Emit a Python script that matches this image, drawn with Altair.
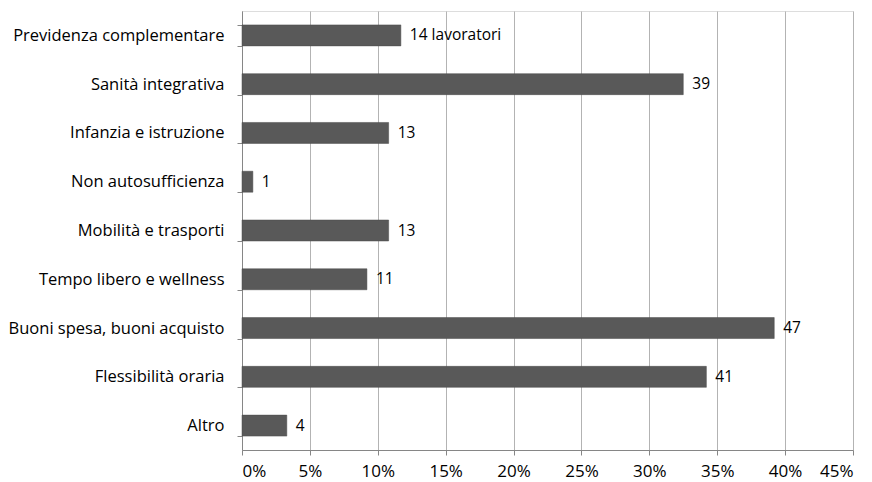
import altair as alt
import pandas as pd

categories = [
    "Previdenza complementare",
    "Sanità integrativa",
    "Infanzia e istruzione",
    "Non autosufficienza",
    "Mobilità e trasporti",
    "Tempo libero e wellness",
    "Buoni spesa, buoni acquisto",
    "Flessibilità oraria",
    "Altro",
]
percent = [11.7, 32.5, 10.8, 0.8, 10.8, 9.2, 39.2, 34.2, 3.3]
labels = ["14 lavoratori", "39", "13", "1", "13", "11", "47", "41", "4"]

df = pd.DataFrame({"cat": categories, "pct": percent, "label": labels})

FONT = "Open Sans"

y = alt.Y("cat:N", sort=categories, title=None,
          scale=alt.Scale(paddingInner=0.57, paddingOuter=0.285),
          axis=alt.Axis(tickBand="extent", domainColor="#868686", tickColor="#868686",
                        tickSize=5, labelFontSize=16.5, labelFont=FONT, labelColor="#000000",
                        labelPadding=13, labelLimit=0, grid=False))
x = alt.X("pct:Q", title=None,
          scale=alt.Scale(domain=[0, 45], nice=False),
          axis=alt.Axis(values=list(range(0, 50, 5)), format=".0f", labelExpr="datum.value + '%'",
                        gridColor="#b3b3b3", domainColor="#868686", tickColor="#868686",
                        tickSize=5, labelFontSize=17, labelFont=FONT, labelColor="#000000",
                        labelBaseline="alphabetic", labelPadding=21))

bars = alt.Chart(df).mark_bar(color="#595959", stroke="#4a4a4a", strokeWidth=0.5).encode(x=x, y=y)
text = alt.Chart(df).mark_text(align="left", dx=9, font=FONT, fontSize=15.5, color="#000000").encode(
    x="pct:Q", y=alt.Y("cat:N", sort=categories), text="label:N")

chart = (bars + text).properties(
    width=611, height=439,
    autosize=alt.AutoSizeParams(type="none"),
    padding={"left": 242, "top": 11, "right": 19, "bottom": 32},
).configure_view(stroke="#b3b3b3").configure(background="white")

chart.save("out.html", embed_options={"renderer": "svg", "actions": False})
